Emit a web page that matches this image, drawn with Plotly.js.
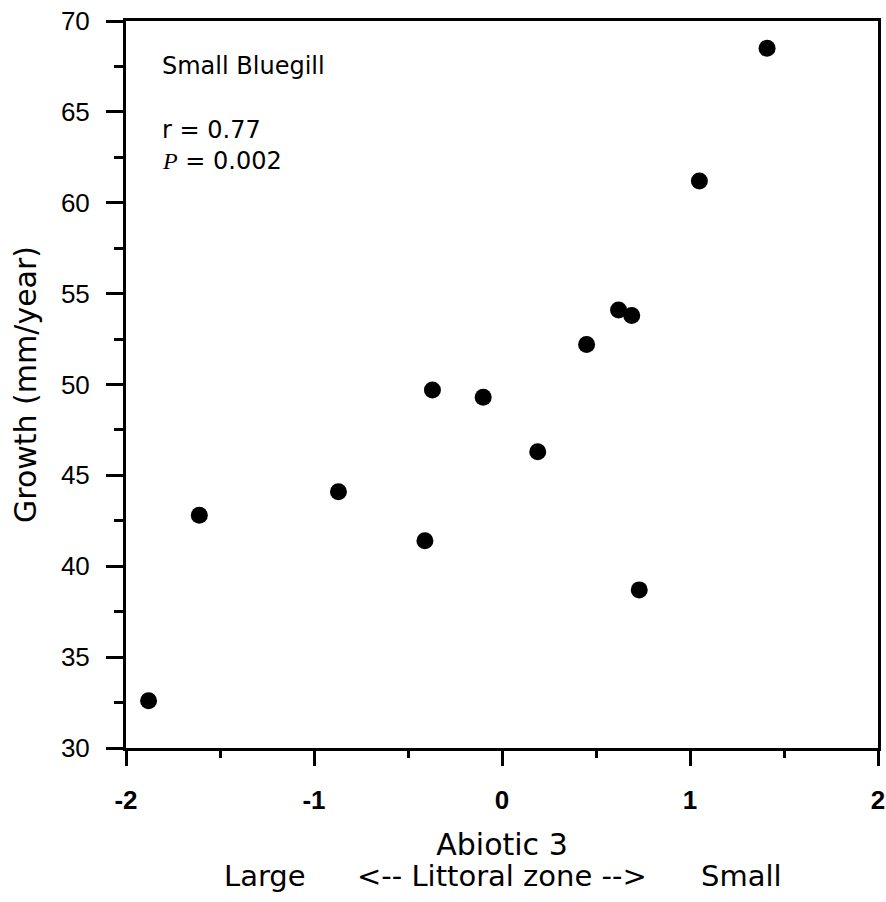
<!DOCTYPE html>
<html>
<head>
<meta charset="utf-8">
<script src="https://cdn.plot.ly/plotly-3.0.1.min.js"></script>
<style>
  html, body { margin: 0; padding: 0; background: #fff; }
  #chart { width: 886px; height: 902px; }
</style>
</head>
<body>
<div id="chart"></div>
<script>
// Data
const abiotic3 = [-1.88, -1.61, -0.87, -0.41, -0.37, -0.10, 0.19, 0.45, 0.62, 0.69, 0.73, 1.05, 1.41];
const growth   = [32.6, 42.8, 44.1, 41.4, 49.7, 49.3, 46.3, 52.2, 54.1, 53.8, 38.7, 61.2, 68.5];

const xTickVals = [-2, -1, 0, 1, 2];
const xTickText = ['-2', '-1', '0', '1', '2'];
const yTickVals = [30, 35, 40, 45, 50, 55, 60, 65, 70];
const yTickText = ['30', '35', '40', '45', '50', '55', '60', '65', '70'];

const titleText = 'Small Bluegill';
const statR = 'r = 0.77';
const statP = '<span style="font-family:\'Liberation Serif\';font-style:italic">P</span> = 0.002';
const xTitle = 'Abiotic 3';
const yTitle = 'Growth (mm/year)';
const scaleLabels = ['Large', '&lt;-- Littoral zone --&gt;', 'Small'];
const scalePos = [0.185, 0.5, 0.818];

const font = 'DejaVu Sans, Arial, sans-serif';
const tickFontFamily = 'Liberation Sans, Arial, sans-serif';

const trace = {
  type: 'scatter',
  mode: 'markers',
  x: abiotic3,
  y: growth,
  marker: { color: '#000', size: 17, line: { width: 0 } },
  showlegend: false,
  hoverinfo: 'x+y'
};

const annotations = [
  { text: titleText, xref: 'paper', yref: 'paper', x: 0.045, y: 0.938, xanchor: 'left', yanchor: 'middle', showarrow: false, font: { family: font, size: 24, color: '#000' } },
  { text: statR, xref: 'paper', yref: 'paper', x: 0.045, y: 0.850, xanchor: 'left', yanchor: 'middle', showarrow: false, font: { family: font, size: 24, color: '#000' } },
  { text: statP, xref: 'paper', yref: 'paper', x: 0.045, y: 0.808, xanchor: 'left', yanchor: 'middle', showarrow: false, font: { family: font, size: 24, color: '#000' } }
];
scaleLabels.forEach((t, i) => {
  annotations.push({ text: t, xref: 'paper', yref: 'paper', x: scalePos[i], y: -0.176, xanchor: 'center', yanchor: 'middle', showarrow: false, font: { family: font, size: 29, color: '#000' } });
});

const layout = {
  width: 886,
  height: 902,
  margin: { l: 126, r: 8, t: 21, b: 154 },
  paper_bgcolor: '#fff',
  plot_bgcolor: '#fff',
  font: { family: font, color: '#000' },
  xaxis: {
    range: [-2, 2],
    tickvals: xTickVals,
    ticktext: xTickText,
    ticks: 'outside',
    ticklen: 15,
    tickwidth: 3,
    tickcolor: '#000',
    ticklabelstandoff: 12,
    ticklabeloverflow: 'allow',
    tickfont: { family: tickFontFamily, size: 26, color: '#000', weight: 'bold' },
    showline: true,
    linewidth: 3,
    linecolor: '#000',
    mirror: true,
    showgrid: false,
    zeroline: false,
    minor: { dtick: 0.5, ticks: 'outside', ticklen: 7, tickwidth: 3, tickcolor: '#000', showgrid: false },
    title: { text: xTitle, standoff: 20, font: { family: font, size: 30, color: '#000' } },
    automargin: false
  },
  yaxis: {
    range: [30, 70],
    tickvals: yTickVals,
    ticktext: yTickText,
    ticks: 'outside',
    ticklen: 17,
    tickwidth: 3,
    tickcolor: '#000',
    ticklabelstandoff: 11,
    ticklabeloverflow: 'allow',
    tickfont: { family: tickFontFamily, size: 26, color: '#000' },
    showline: true,
    linewidth: 3,
    linecolor: '#000',
    mirror: true,
    showgrid: false,
    zeroline: false,
    minor: { dtick: 2.5, ticks: 'outside', ticklen: 9, tickwidth: 3, tickcolor: '#000', showgrid: false },
    title: { text: yTitle, standoff: 16, font: { family: font, size: 30, color: '#000' } },
    automargin: false
  },
  annotations: annotations,
  showlegend: false
};

Plotly.newPlot('chart', [trace], layout, { displayModeBar: false, staticPlot: true });
</script>
</body>
</html>
